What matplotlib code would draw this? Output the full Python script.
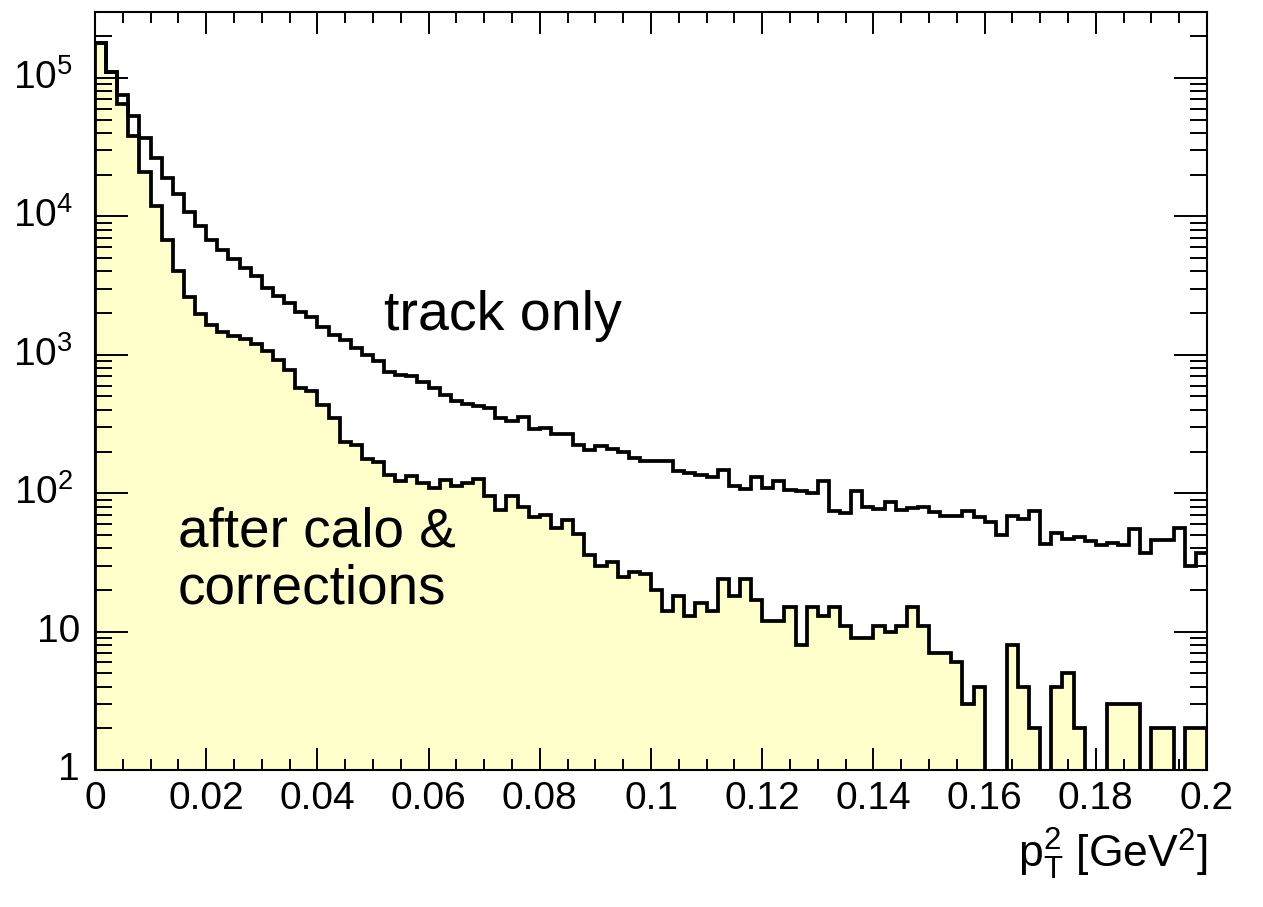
import matplotlib
matplotlib.use("Agg")
import matplotlib.pyplot as plt
import matplotlib.transforms as mtransforms
import numpy as np
from matplotlib.ticker import FixedLocator, FuncFormatter, MultipleLocator, LogLocator, NullFormatter

# 100 bins of pT^2 between 0 and 0.2 GeV^2
nBins = 100
xMin, xMax = 0.0, 0.2

trackOnly = [
    1.8e5, 1.11e5, 7.6e4, 5.3e4, 3.7e4, 2.65e4, 1.9e4, 1.44e4, 1.08e4, 8.5e3,
    6.8e3, 5.7e3, 4.9e3, 4.25e3, 3.7e3, 3.04e3, 2.65e3, 2.37e3, 2.03e3, 1.87e3,
    1.58e3, 1.40e3, 1.29e3, 1.12e3, 1.0e3, 896, 746, 718, 698, 632,
    575, 515, 460, 443, 424, 412, 349, 335, 355, 291,
    295, 269, 269, 224, 206, 220, 208, 200, 181, 172,
    172, 172, 144, 140, 136, 131, 148, 113, 107, 131,
    109, 123, 106, 103, 101, 123, 75, 72, 103, 79,
    77, 87, 76, 78, 79, 73, 69, 69, 75, 67,
    62, 50, 69, 65, 74, 43, 52, 47, 48, 45,
    42, 44, 42, 55, 37, 46, 46, 56, 30, 37,
]

afterCalo = [
    1.8e5, 1.11e5, 6.5e4, 3.8e4, 2.1e4, 1.18e4, 6.8e3, 4.0e3, 2.6e3, 1.98e3,
    1.65e3, 1.45e3, 1.37e3, 1.30e3, 1.2e3, 1.06e3, 922, 780, 575, 544,
    435, 349, 233, 222, 177, 168, 136, 123, 134, 118,
    109, 124, 112, 118, 126, 95, 76, 95, 80, 67,
    70, 56, 64, 51, 36, 30, 32, 25, 27, 26,
    20, 14, 18, 13, 16, 14, 24, 18, 24, 17,
    12, 12, 15, 8, 15, 13, 15, 11, 9, 9,
    11, 10, 11, 15, 11, 7, 7, 6, 3, 4,
    0, 0, 8, 4, 2, 0, 4, 5, 2, 0,
    0, 3, 3, 3, 0, 2, 2, 0, 2, 2,
]

yTicks = [1, 10, 1e2, 1e3, 1e4, 1e5]
yTickLabels = ["1", "10", r"$10^{2}$", r"$10^{3}$", r"$10^{4}$", r"$10^{5}$"]


def Main():
    plt.rcParams["font.family"] = ["Liberation Sans", "DejaVu Sans"]
    plt.rcParams["mathtext.fontset"] = "custom"
    plt.rcParams["mathtext.rm"] = "Liberation Sans"
    plt.rcParams["mathtext.it"] = "Liberation Sans:italic"
    plt.rcParams["mathtext.default"] = "regular"

    fig = plt.figure(figsize=(12.63, 9.07), dpi=100)
    ax = fig.add_axes([0.0752, 0.1510, 0.8805, 0.8358])

    edges = np.linspace(xMin, xMax, nBins + 1)
    floor = 1e-3
    lower = np.where(np.array(afterCalo) > 0, afterCalo, floor)
    upper = np.array(trackOnly, dtype=float)

    ax.set_yscale("log")
    ax.set_xlim(xMin, xMax)
    ax.set_ylim(1, 3e5)

    ax.stairs(lower, edges, baseline=floor, fill=True, color="#ffffcc", lw=0, zorder=1)
    ax.stairs(lower, edges, baseline=floor, fill=False, color="black", lw=2.7, zorder=3)
    ax.stairs(upper, edges, baseline=None, fill=False, color="black", lw=2.7, zorder=3)

    # axis ticks drawn inside, mirrored on all four sides
    ax.xaxis.set_major_locator(MultipleLocator(0.02))
    ax.xaxis.set_minor_locator(MultipleLocator(0.005))
    ax.xaxis.set_major_formatter(FuncFormatter(lambda v, p: "%g" % round(v, 3)))
    ax.yaxis.set_major_locator(FixedLocator(yTicks))
    ax.yaxis.set_minor_locator(LogLocator(base=10, subs=np.arange(2, 10)))
    ax.yaxis.set_major_formatter(NullFormatter())
    ax.yaxis.set_minor_formatter(NullFormatter())

    ax.tick_params(axis="both", which="both", direction="in", top=True, right=True,
                   width=1.4, labelsize=28)
    ax.tick_params(axis="x", which="major", length=16, pad=8)
    ax.tick_params(axis="x", which="minor", length=8)
    ax.tick_params(axis="y", which="major", length=24)
    ax.tick_params(axis="y", which="minor", length=12)
    ax.set_axisbelow(False)

    # y labels: powers of ten sit a little further from the axis
    for value, label in zip(yTicks, yTickLabels):
        shift = 22 if "^" in label else 15
        trans = mtransforms.offset_copy(ax.get_yaxis_transform(), fig=fig,
                                        x=-shift, y=0, units="dots")
        ax.text(0, value, label, transform=trans, fontsize=28,
                ha="right", va="center", clip_on=False)

    for spine in ax.spines.values():
        spine.set_linewidth(1.5)
        spine.set_zorder(4)

    ax.text(0.052, 1.5e3, "track only", fontsize=40, va="baseline", ha="left")
    ax.text(0.0149, 41.2, "after calo &", fontsize=39.5, va="baseline", ha="left")
    ax.text(0.0149, 16.0, "corrections", fontsize=39.5, va="baseline", ha="left")

    fig.text(1207 / 1263, 1 - 868 / 907, r"$p_{T}^{2}$ [GeV$^{2}$]",
             fontsize=32, ha="right", va="baseline")

    fig.savefig("out.png", dpi=100)


Main()
